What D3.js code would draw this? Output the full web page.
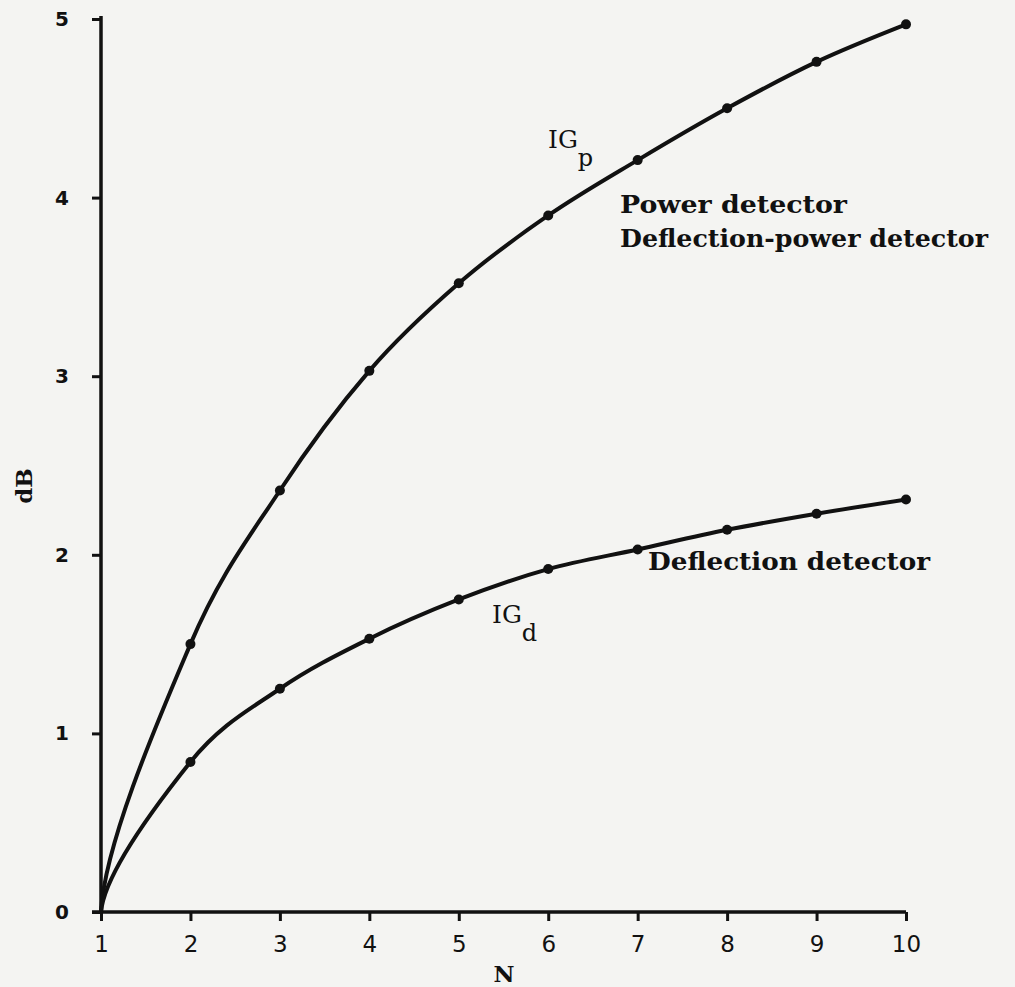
<!DOCTYPE html>
<html>
<head>
<meta charset="utf-8">
<script src="https://cdn.jsdelivr.net/npm/d3@7"></script>
<style>
  html, body { margin: 0; padding: 0; background: #f4f4f2; }
  svg { display: block; }
</style>
</head>
<body>
<svg id="chart" width="1015" height="987"></svg>
<script>
// ---- data ----
const nValues = [1, 2, 3, 4, 5, 6, 7, 8, 9, 10];
const powerDetectorDB = [0, 1.50, 2.36, 3.03, 3.52, 3.90, 4.21, 4.50, 4.76, 4.97];
const deflectionDetectorDB = [0, 0.84, 1.25, 1.53, 1.75, 1.92, 2.03, 2.14, 2.23, 2.31];
const xTickValues = [1, 2, 3, 4, 5, 6, 7, 8, 9, 10];
const yTickValues = [0, 1, 2, 3, 4, 5];
const xAxisLabel = "N";
const yAxisLabel = "dB";

// ---- layout ----
const svg = d3.select("#chart");
const W = 1015, H = 987;
const margin = { left: 101, right: 109, top: 19, bottom: 75 };
const ink = "#111";

svg.append("rect").attr("width", W).attr("height", H).attr("fill", "#f4f4f2");

const x = d3.scaleLinear().domain([1, 10]).range([margin.left, W - margin.right]);
const y = d3.scaleLinear().domain([0, 5]).range([H - margin.bottom, margin.top]);

const tickFont = "'DejaVu Sans', sans-serif";
const labelFont = "'DejaVu Serif', serif";

// axes
const xAxis = svg.append("g")
  .attr("transform", `translate(0,${y(0)})`)
  .call(d3.axisBottom(x).tickValues(xTickValues).tickSize(9).tickSizeOuter(0).tickPadding(15).tickFormat(d3.format("d")));
const yAxis = svg.append("g")
  .attr("transform", `translate(${x(1)},0)`)
  .call(d3.axisLeft(y).tickValues(yTickValues).tickSize(9).tickSizeOuter(0).tickPadding(24).tickFormat(d3.format("d")));

[xAxis, yAxis].forEach(g => {
  g.select(".domain").attr("stroke", ink).attr("stroke-width", 3.5);
  g.selectAll(".tick line").attr("stroke", ink).attr("stroke-width", 3);
  g.selectAll(".tick text")
    .attr("fill", ink)
    .style("font-family", tickFont);
});
xAxis.selectAll(".tick text").style("font-size", "23px").style("font-weight", "normal");
yAxis.selectAll(".tick text").style("font-size", "20px").style("font-weight", "bold")
  .attr("text-anchor", "end").attr("x", -32);
// axis lines meeting at the corner
yAxis.select(".domain").attr("d", `M0,${y(0) + 1}V${y(5) - 3}`);
xAxis.select(".domain").attr("d", `M${x(1) - 9},0H${x(10)}`);

// Custom d3 curve: monotone cubic (Steffen tangents) through every point,
// with a steep, concave start at the origin as in the hand-drawn original.
function curveSteepStart(context) {
  let pts;
  return {
    areaStart() {}, areaEnd() {},
    lineStart() { pts = []; },
    point(px, py) { pts.push([+px, +py]); },
    lineEnd() {
      const n = pts.length;
      if (!n) return;
      const X = pts.map(p => p[0]), Y = pts.map(p => p[1]);
      const s = [];
      for (let i = 0; i < n - 1; i++) s.push((Y[i + 1] - Y[i]) / (X[i + 1] - X[i]));
      const m = new Array(n).fill(0);
      for (let i = 1; i < n - 1; i++) {
        const h0 = X[i] - X[i - 1], h1 = X[i + 1] - X[i];
        const p = (s[i - 1] * h1 + s[i] * h0) / (h0 + h1);
        m[i] = (Math.sign(s[i - 1]) + Math.sign(s[i])) *
          Math.min(Math.abs(s[i - 1]), Math.abs(s[i]), 0.5 * Math.abs(p)) || 0;
      }
      if (n > 1) m[n - 1] = (3 * s[n - 2] - m[n - 2]) / 2;
      context.moveTo(X[0], Y[0]);
      if (n === 1) return;
      let h = X[1] - X[0];
      context.bezierCurveTo(X[0] + 0.04 * h, Y[0] + 0.26 * (Y[1] - Y[0]),
        X[1] - h / 3, Y[1] - m[1] * h / 3, X[1], Y[1]);
      for (let i = 1; i < n - 1; i++) {
        h = X[i + 1] - X[i];
        context.bezierCurveTo(X[i] + h / 3, Y[i] + m[i] * h / 3,
          X[i + 1] - h / 3, Y[i + 1] - m[i + 1] * h / 3, X[i + 1], Y[i + 1]);
      }
    }
  };
}

// lines
const line = d3.line()
  .x((d, i) => x(nValues[i]))
  .y(d => y(d))
  .curve(curveSteepStart);

[powerDetectorDB, deflectionDetectorDB].forEach(series => {
  svg.append("path")
    .datum(series)
    .attr("d", line)
    .attr("fill", "none")
    .attr("stroke", ink)
    .attr("stroke-width", 4)
    .attr("stroke-linejoin", "round")
    .attr("stroke-linecap", "round");
  svg.selectAll(null)
    .data(series.slice(1))
    .enter().append("circle")
    .attr("cx", (d, i) => x(nValues[i + 1]))
    .attr("cy", d => y(d))
    .attr("r", 5)
    .attr("fill", ink);
});

// series labels
function label(txt, lx, ly, len) {
  const t = svg.append("text")
    .attr("x", lx).attr("y", ly)
    .attr("fill", ink)
    .style("font-family", labelFont)
    .style("font-size", "25px")
    .style("font-weight", "bold")
    .text(txt);
  if (len) t.attr("textLength", len).attr("lengthAdjust", "spacingAndGlyphs");
}
label("Power detector", 620, 213, 227);
label("Deflection-power detector", 620, 247, 368);
label("Deflection detector", 648, 570, 282);

function ig(sub, lx, ly) {
  const t = svg.append("text")
    .attr("x", lx).attr("y", ly)
    .attr("fill", ink)
    .style("font-family", labelFont)
    .style("font-size", "25px");
  t.append("tspan").text("IG");
  t.append("tspan").attr("dy", 18).style("font-size", "24px").text(sub);
}
ig("p", 548, 148);
ig("d", 492, 623);

// axis titles
svg.append("text")
  .attr("x", 504).attr("y", 982)
  .attr("text-anchor", "middle")
  .attr("fill", ink)
  .style("font-family", labelFont)
  .style("font-size", "23px")
  .style("font-weight", "bold")
  .text(xAxisLabel);

svg.append("text")
  .attr("transform", "translate(32,486) rotate(-90)")
  .attr("text-anchor", "middle")
  .attr("fill", ink)
  .style("font-family", labelFont)
  .style("font-size", "23px")
  .style("font-weight", "bold")
  .text(yAxisLabel);
</script>
</body>
</html>
